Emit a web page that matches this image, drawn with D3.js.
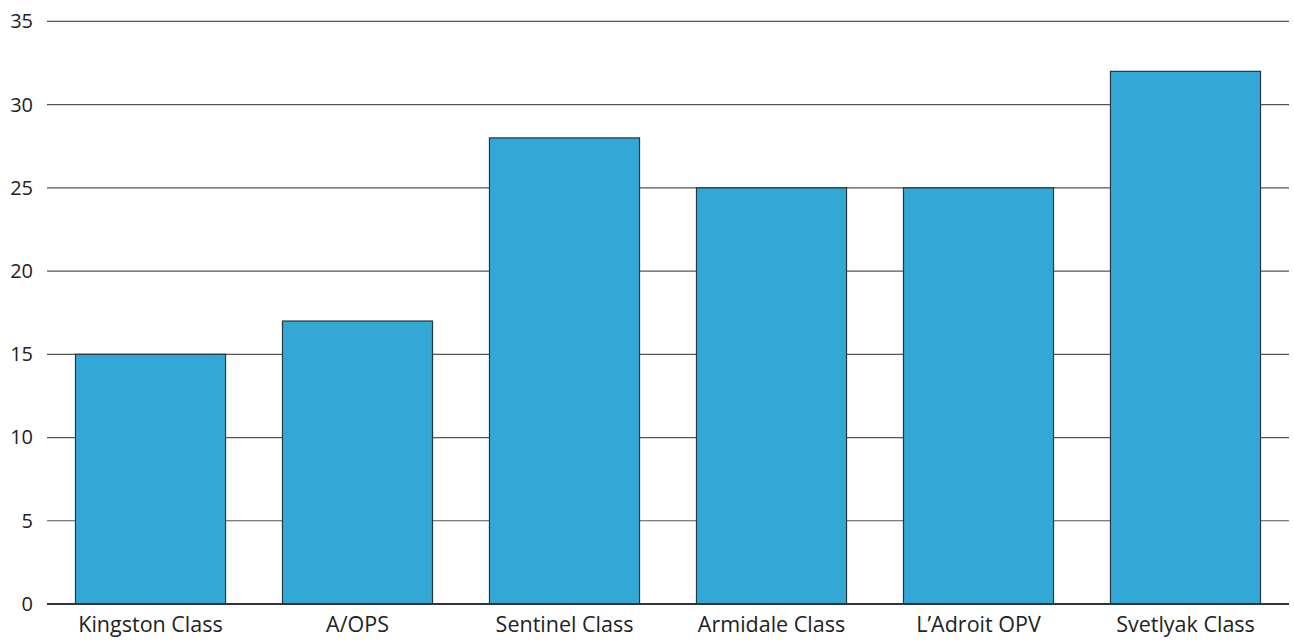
<!DOCTYPE html>
<html>
<head>
<meta charset="utf-8">
<script src="https://cdn.jsdelivr.net/npm/d3@7"></script>
<style>
  body { margin: 0; background: #fff; }
  text { font-family: "Open Sans", sans-serif; fill: #222; }
</style>
</head>
<body>
<svg id="wykres"></svg>
<script>
// dane
let kategorie = ['Kingston Class', 'A/OPS', 'Sentinel Class', 'Armidale Class', 'L\u2019Adroit OPV', 'Svetlyak Class'];
let wartosci = [15, 17, 28, 25, 25, 32];
let ticki = [0, 5, 10, 15, 20, 25, 30, 35];

let svg = d3.select('#wykres').attr('width', 1294).attr('height', 641);

let x = d3.scaleBand()
	.domain(kategorie)
	.range([47, 1289])
	.paddingInner(0.275)
	.paddingOuter(0.1375);

let y = d3.scaleLinear()
	.domain([0, 35])
	.range([604, 21.4]);

// linie siatki
svg.append('g')
	.selectAll('line')
	.data(ticki.filter(d => d > 0))
	.join('line')
	.attr('x1', 47).attr('x2', 1289)
	.attr('y1', d => y(d)).attr('y2', d => y(d))
	.attr('stroke', '#555')
	.attr('stroke-width', 1.2);

// słupki
svg.append('g')
	.selectAll('rect')
	.data(wartosci)
	.join('rect')
	.attr('x', (d, i) => x(kategorie[i]))
	.attr('y', d => y(d))
	.attr('width', x.bandwidth())
	.attr('height', d => y(0) - y(d))
	.attr('fill', '#33a8d6')
	.attr('stroke', '#25363d')
	.attr('stroke-width', 1.2);

// oś zero
svg.append('line')
	.attr('x1', 47).attr('x2', 1289)
	.attr('y1', y(0)).attr('y2', y(0))
	.attr('stroke', '#333')
	.attr('stroke-width', 2);

let yAxis = d3.axisLeft(y).tickValues(ticki).tickSize(0).tickPadding(0);
let gy = svg.append('g').attr('transform', 'translate(33,0)').call(yAxis);
gy.select('.domain').remove();
gy.attr('font-family', null).attr('font-size', null);
gy.selectAll('text').style('font-size', '20px').attr('fill', '#222');

let xAxis = d3.axisBottom(x).tickSize(0).tickPadding(0);
let gx = svg.append('g').attr('transform', 'translate(0,617)').call(xAxis);
gx.select('.domain').remove();
gx.attr('font-family', null).attr('font-size', null);
gx.selectAll('text').style('font-size', '21.5px').attr('fill', '#222');
</script>
</body>
</html>
